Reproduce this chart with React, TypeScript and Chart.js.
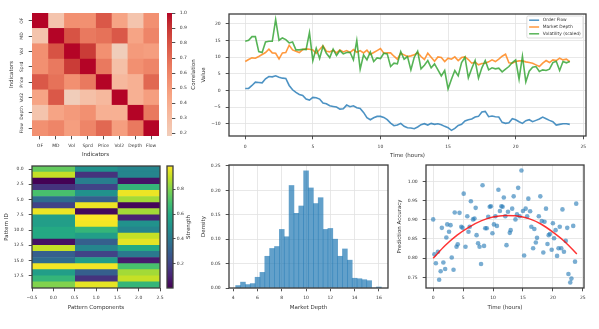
import React, { useEffect, useRef } from 'react';
import { Chart, registerables } from 'chart.js';

Chart.register(...registerables);

// ---------------- data ----------------
const indicatorLabels = ['OF', 'MD', 'Vol', 'Sprd', 'Price', 'Vol2', 'Depth', 'Flow'];
const corrOF = [1.0, 0.25, 0.55, 0.55, 0.78, 0.45, 0.25, 0.55];
const corrMD = [0.25, 1.0, 0.8, 0.65, 0.68, 0.78, 0.45, 0.6];
const corrVol = [0.55, 0.8, 1.0, 0.88, 0.55, 0.18, 0.5, 0.48];
const corrSprd = [0.55, 0.65, 0.88, 1.0, 0.65, 0.28, 0.55, 0.6];
const corrPrice = [0.78, 0.68, 0.55, 0.65, 1.0, 0.33, 0.38, 0.72];
const corrVol2 = [0.45, 0.78, 0.18, 0.28, 0.33, 1.0, 0.38, 0.48];
const corrDepth = [0.25, 0.45, 0.5, 0.55, 0.38, 0.38, 1.0, 0.65];
const corrFlow = [0.55, 0.6, 0.48, 0.6, 0.72, 0.48, 0.65, 1.0];
const corrTicks = [0.2, 0.3, 0.4, 0.5, 0.6, 0.7, 0.8, 0.9, 1.0];

const componentA = [0.75, 0.9, 0.006, 0.15, 0.7, 0.35, 0.2, 0.96, 0.55, 0.55, 0.6, 0.6, 0.05, 0.9, 0.3, 0.35, 0.97, 0.55, 0.65, 0.8];
const componentB = [0.5, 0.15, 0.42, 0.2, 0.5, 0.3, 0.96, 0.03, 0.986, 0.97, 0.65, 0.55, 0.3, 0.45, 0.2, 0.55, 0.97, 0.3, 0.15, 0.95];
const componentC = [0.45, 0.45, 0.06, 0.65, 0.96, 0.85, 0.02, 0.85, 0.1, 0.5, 0.45, 0.9, 0.95, 0.6, 0.4, 0.08, 0.7, 0.85, 0.9, 0.65];
const patternXTicks = [-0.5, 0, 0.5, 1, 1.5, 2, 2.5];
const patternYTicks = [0, 2.5, 5, 7.5, 10, 12.5, 15, 17.5];
const strengthTicks = [0.2, 0.4, 0.6, 0.8];

const HOUR_STEP = 0.25;
const orderFlow = [
  0.6, 0.6, 1.5, 2.5, 2.4, 2.3, 3.5, 4.2, 4.1, 4.4, 4.0, 3.7, 3.6,
  1.5, 0.2, -0.6, -1.2, -1.5, -2.6, -2.9, -2.1, -2.2, -2.6, -3.8, -4.0,
  -4.6, -4.8, -5.0, -5.6, -5.5, -4.4, -4.9, -4.6, -5.2, -5.4, -6.6, -8.2,
  -8.8, -8.2, -7.8, -7.8, -8.1, -8.8, -9.8, -10.6, -10.4, -9.9, -10.8, -11.2,
  -11.3, -11.5, -11.0, -10.3, -10.0, -10.4, -9.9, -10.2, -10.0, -10.3, -10.8, -11.2,
  -12.0, -11.4, -10.5, -10.2, -9.2, -8.8, -8.6, -8.0, -7.8, -6.5, -6.3, -7.9,
  -7.7, -7.9, -8.0, -9.6, -9.9, -9.7, -8.5, -8.8, -9.4, -9.9, -9.1, -8.8,
  -9.4, -9.0, -8.6, -8.0, -8.5, -9.0, -9.4, -10.4, -10.2, -10.0, -10.0, -10.2,
];
const marketDepth = [
  8.7, 9.3, 9.8, 9.7, 10.2, 10.8, 11.4, 12.4, 11.3, 11.2, 9.5, 11.3, 11.4,
  13.6, 12.2, 11.8, 11.4, 12.3, 12.5, 12.4, 12.2, 11.2, 12.3, 13.4, 11.8,
  11.6, 12.1, 11.3, 12.2, 11.6, 12.0, 11.4, 12.3, 11.5, 12.0, 11.3, 12.1,
  10.8, 11.4, 12.0, 12.6, 11.2, 11.3, 11.3, 10.3, 9.4, 11.2, 10.7, 10.2,
  10.4, 10.7, 11.4, 10.2, 9.3, 11.2, 10.0, 8.8, 10.1, 9.9, 8.7, 9.7,
  9.4, 10.1, 9.0, 9.9, 10.1, 9.3, 8.2, 8.5, 7.7, 8.1, 8.2, 8.6,
  9.2, 8.7, 9.4, 10.3, 10.9, 8.3, 8.2, 8.7, 8.9, 8.9, 8.6, 8.4,
  8.2, 7.7, 7.2, 8.2, 9.0, 8.4, 9.2, 9.0, 9.7, 9.2, 9.4, 8.7,
];
const volatility = [
  14.8, 15.1, 16.2, 16.2, 11.7, 11.4, 14.6, 14.8, 14.8, 21.3, 15.1, 15.8, 15.3,
  14.3, 14.6, 12.2, 12.2, 12.4, 12.3, 17.4, 9.0, 12.7, 9.6, 13.3, 11.2,
  9.9, 12.4, 10.5, 12.0, 11.0, 11.4, 11.5, 9.2, 15.0, 6.4, 10.7, 9.2,
  11.6, 8.7, 9.8, 9.6, 11.2, 11.0, 7.2, 8.2, 8.0, 11.7, 9.4, 10.2,
  6.2, 10.0, 11.8, 6.5, 7.6, 9.0, 6.8, 8.0, 6.2, 4.4, 6.0, 0.5,
  3.4, 6.0, 4.4, 8.4, 10.0, 3.8, 6.6, 9.0, 3.7, 6.8, 9.0, 6.2,
  6.8, 6.5, 6.7, 5.6, 6.4, 7.2, 8.4, 9.2, 3.4, 10.3, 2.6, 5.8,
  7.0, 7.2, 5.7, 6.2, 6.0, 6.4, 8.4, 8.8, 6.0, 8.7, 8.3, 8.7,
];
const timeTicks = [0, 5, 10, 15, 20, 25];
const valueTicks = [-10, -5, 0, 5, 10, 15, 20];

const depthBinCenters = [4.4, 4.8, 5.2, 5.6, 6.0, 6.4, 6.8, 7.2, 7.6, 8.0, 8.4, 8.8, 9.2, 9.6, 10.0, 10.4, 10.8, 11.2, 11.6, 12.0, 12.4, 12.8, 13.2, 13.6, 14.0, 14.4, 14.8, 15.2, 15.6, 16.0];
const depthDensity = [0.005, 0.012, 0.007, 0.009, 0.022, 0.032, 0.065, 0.081, 0.085, 0.12, 0.105, 0.21, 0.153, 0.168, 0.24, 0.205, 0.173, 0.185, 0.12, 0.122, 0.1, 0.065, 0.08, 0.057, 0.02, 0.019, 0.017, 0.015, 0, 0.002];
const depthTicks = [4, 6, 8, 10, 12, 14, 16];
const densityTicks = [0, 0.05, 0.1, 0.15, 0.2, 0.25];

const accTime = [
  0.0, 0.2, 0.45, 0.8, 1.0, 1.25, 1.45, 1.7, 2.0, 2.2,
  2.35, 2.65, 2.9, 3.1, 3.4, 3.6, 3.9, 4.1, 4.4, 4.7,
  4.9, 5.1, 5.4, 5.7, 5.9, 6.1, 6.3, 6.65, 6.9, 7.1,
  7.25, 7.5, 7.75, 8.0, 8.25, 8.5, 8.7, 8.95, 9.2, 9.45,
  9.65, 9.9, 10.15, 10.4, 10.65, 10.9, 11.15, 11.4, 11.6, 11.8,
  12.05, 12.25, 12.5, 12.8, 12.95, 13.2, 13.45, 13.75, 14.0, 14.2,
  14.45, 14.75, 15.0, 15.2, 15.45, 15.7, 15.9, 16.2, 16.4, 16.7,
  16.9, 17.15, 17.35, 17.65, 17.9, 18.15, 18.4, 18.6, 18.85, 19.1,
  19.3, 19.5, 19.8, 20.0, 20.2, 20.45, 20.7, 20.95, 21.15, 21.4,
  21.6, 21.85, 22.15, 22.4, 22.6, 22.9, 23.1, 23.4, 23.7, 23.9,
];
const accValue = [
  0.901, 0.81, 0.787, 0.817, 0.744, 0.766, 0.879, 0.789, 0.772, 0.854,
  0.888, 0.869, 0.886, 0.802, 0.77, 0.919, 0.83, 0.836, 0.918, 0.882,
  0.879, 0.968, 0.83, 0.909, 0.869, 0.882, 0.948, 0.901, 0.903, 0.931,
  0.86, 0.839, 0.83, 0.785, 0.99, 0.832, 0.878, 0.878, 0.908, 0.934,
  0.935, 0.865, 0.888, 0.909, 0.884, 0.978, 0.923, 0.935, 0.934, 0.958,
  0.909, 0.834, 0.921, 0.866, 0.873, 0.929, 0.961, 0.901, 0.914, 0.983,
  0.909, 1.028, 0.923, 0.807, 0.929, 0.909, 0.955, 0.922, 0.882, 0.826,
  0.876, 0.841, 0.853, 0.909, 0.961, 0.897, 0.815, 0.895, 0.929, 0.837,
  0.86, 0.863, 0.822, 0.891, 0.852, 0.873, 0.806, 0.826, 0.882, 0.826,
  0.927, 0.817, 0.845, 0.879, 0.759, 0.737, 0.747, 0.884, 0.791, 0.942,
];
const fitTime = [0, 2, 4, 6, 8, 10, 12, 14, 16, 18, 20, 22, 24];
const fitAccuracy = [0.8, 0.833, 0.86, 0.881, 0.897, 0.907, 0.911, 0.91, 0.903, 0.889, 0.868, 0.843, 0.811];
const accTicks = [0.75, 0.8, 0.85, 0.9, 0.95, 1.0];

// ---------------- styling helpers ----------------
const FONT = '"DejaVu Sans", sans-serif';
const TEXT = '#333333';
const SPINE = '#3d3d3d';
const GRID = '#e2e2e2';
const TICK_SIZE = 4.5;
const TITLE_SIZE = 5.5;
const PAD = 8;

Chart.defaults.font.family = FONT;
Chart.defaults.color = TEXT;

const COOLWARM: [number, number[]][] = [
  [0.5, [221, 221, 221]], [0.53125, [229, 216, 209]], [0.5625, [236, 211, 197]], [0.59375, [241, 204, 184]],
  [0.625, [244, 196, 173]], [0.65625, [246, 187, 160]], [0.6875, [247, 177, 148]], [0.71875, [247, 167, 135]],
  [0.75, [244, 154, 123]], [0.78125, [241, 141, 111]], [0.8125, [236, 127, 99]], [0.84375, [229, 112, 88]],
  [0.875, [222, 96, 77]], [0.90625, [213, 80, 66]], [0.9375, [203, 62, 56]], [0.96875, [192, 40, 47]], [1, [180, 4, 38]],
];
const VIRIDIS: [number, number[]][] = [
  [0, [68, 1, 84]], [0.1, [72, 36, 117]], [0.2, [65, 68, 135]], [0.3, [53, 95, 141]], [0.4, [42, 120, 142]],
  [0.5, [33, 145, 140]], [0.6, [34, 168, 132]], [0.7, [68, 191, 112]], [0.8, [122, 209, 81]], [0.9, [189, 223, 38]], [1, [253, 231, 37]],
];
function lerpMap(table: [number, number[]][], f: number) {
  const t = Math.max(table[0][0], Math.min(table[table.length - 1][0], f));
  for (let i = 1; i < table.length; i++) {
    const [f1, c1] = table[i];
    const [f0, c0] = table[i - 1];
    if (t <= f1) {
      const k = (t - f0) / (f1 - f0);
      const c = c0.map((v, j) => Math.round(v + (c1[j] - v) * k));
      return `rgb(${c[0]},${c[1]},${c[2]})`;
    }
  }
  const c = table[table.length - 1][1];
  return `rgb(${c[0]},${c[1]},${c[2]})`;
}
const coolwarm = (f: number) => lerpMap(COOLWARM, f);
const viridis = (f: number) => lerpMap(VIRIDIS, f);

function fmt(v: number, d: number) {
  const s = Math.abs(v).toFixed(d);
  return v < -1e-9 ? '\u2212' + s : s;
}

type Area = { L: number; T: number; R: number; B: number };
function rectOf(a: Area, leftW: number, rightW: number, bottomH: number) {
  return {
    left: a.L - leftW - PAD,
    top: a.T - PAD,
    width: PAD + leftW + (a.R - a.L) + rightW + PAD,
    height: PAD + (a.B - a.T) + bottomH + PAD,
  };
}

function axis(o: any) {
  const horizontal = o.position === 'bottom' || o.position === 'top';
  const tPad = (o.titleOffset ?? 4) - (TITLE_SIZE * 1.2) / 2;
  return {
    type: 'linear',
    position: o.position,
    min: o.min,
    max: o.max,
    reverse: !!o.reverse,
    offset: false,
    afterBuildTicks: (s: any) => {
      s.ticks = o.values.map((v: number) => ({ value: v }));
    },
    afterFit: (s: any) => {
      if (horizontal) s.height = o.size;
      else s.width = o.size;
    },
    ticks: {
      autoSkip: false,
      padding: o.pad ?? 4.5,
      color: TEXT,
      font: { family: FONT, size: TICK_SIZE },
      callback: (v: any) => o.label(Number(v)),
      minRotation: o.rotate ? 90 : 0,
      maxRotation: o.rotate ? 90 : 0,
      crossAlign: o.rotate ? 'center' : 'near',
    },
    grid: {
      display: true,
      drawOnChartArea: !!o.grid,
      color: GRID,
      lineWidth: 0.8,
      offset: false,
      drawTicks: true,
      tickLength: o.tickLength ?? 3.3,
      tickColor: SPINE,
      tickWidth: 0.9,
    },
    border: { display: false },
    title: o.title
      ? { display: true, text: o.title, color: TEXT, font: { family: FONT, size: TITLE_SIZE }, padding: { top: tPad, bottom: tPad } }
      : { display: false },
  };
}

const framePlugin = {
  id: 'frame',
  afterDraw(chart: any) {
    const { ctx, chartArea: a } = chart;
    ctx.save();
    ctx.strokeStyle = SPINE;
    ctx.lineWidth = 1.3;
    ctx.strokeRect(a.left, a.top, a.right - a.left, a.bottom - a.top);
    ctx.restore();
  },
};

function sideLabel(text: string, offset: number) {
  return {
    id: 'sideLabel',
    afterDraw(chart: any) {
      const { ctx, chartArea: a } = chart;
      ctx.save();
      ctx.translate(a.right + offset, (a.top + a.bottom) / 2);
      ctx.rotate(-Math.PI / 2);
      ctx.font = `${TITLE_SIZE}px ${FONT}`;
      ctx.fillStyle = TEXT;
      ctx.textAlign = 'center';
      ctx.textBaseline = 'middle';
      ctx.fillText(text, 0, 0);
      ctx.restore();
    },
  };
}

const boxLegend = {
  id: 'boxLegend',
  afterDraw(chart: any) {
    const { ctx, chartArea: a } = chart;
    const items = chart.data.datasets;
    ctx.save();
    ctx.font = `4.4px ${FONT}`;
    const textW = Math.max(...items.map((d: any) => ctx.measureText(d.label).width));
    const padX = 2.3, padY = 0.8, row = 6.8, lineLen = 10, gap = 3.7;
    const w = padX * 2 + lineLen + gap + textW;
    const h = padY * 2 + row * items.length;
    const x0 = a.right - 3 - w;
    const y0 = a.top + 2;
    ctx.beginPath();
    if (ctx.roundRect) ctx.roundRect(x0, y0, w, h, 1.5);
    else ctx.rect(x0, y0, w, h);
    ctx.fillStyle = 'rgba(255,255,255,0.85)';
    ctx.fill();
    ctx.strokeStyle = '#d2d2d2';
    ctx.lineWidth = 0.8;
    ctx.stroke();
    items.forEach((d: any, i: number) => {
      const y = y0 + padY + row * (i + 0.5);
      ctx.beginPath();
      ctx.moveTo(x0 + padX, y);
      ctx.lineTo(x0 + padX + lineLen, y);
      ctx.strokeStyle = d.borderColor;
      ctx.lineWidth = 1.5;
      ctx.stroke();
      ctx.fillStyle = TEXT;
      ctx.textAlign = 'left';
      ctx.textBaseline = 'middle';
      ctx.fillText(d.label, x0 + padX + lineLen + gap, y);
    });
    ctx.restore();
  },
};

function gradientFill(cmap: (f: number) => string, f0: number, f1: number) {
  return (c: any) => {
    const a = c.chart.chartArea;
    if (!a) return cmap(f1);
    const g = c.chart.ctx.createLinearGradient(0, a.bottom, 0, a.top);
    for (let i = 0; i <= 40; i++) {
      const t = i / 40;
      g.addColorStop(t, cmap(f0 + (f1 - f0) * t));
    }
    return g;
  };
}

function base(extra: any) {
  return {
    responsive: false,
    animation: false,
    devicePixelRatio: 1,
    events: [],
    layout: { padding: PAD },
    plugins: { legend: { display: false }, tooltip: { enabled: false } },
    ...extra,
  };
}

// ---------------- panels ----------------
const corrRows = [corrOF, corrMD, corrVol, corrSprd, corrPrice, corrVol2, corrDepth, corrFlow];
const corrMin = Math.min(...corrRows.flat());
const corrMax = Math.max(...corrRows.flat());
const indicatorIdx = indicatorLabels.map((_, i) => i);

const areaCorr: Area = { L: 32, T: 13, R: 159, B: 136 };
const areaCorrBar: Area = { L: 167, T: 13, R: 172, B: 136 };
const areaLines: Area = { L: 229, T: 14, R: 586, B: 136 };
const areaPattern: Area = { L: 32, T: 166, R: 160, B: 288 };
const areaPatternBar: Area = { L: 167, T: 166, R: 173, B: 288 };
const areaHist: Area = { L: 229, T: 165, R: 388, B: 288 };
const areaScatter: Area = { L: 426, T: 165, R: 584, B: 288 };

const components = [componentA, componentB, componentC];
const allStrength = components.flat();
const sMin = Math.min(...allStrength);
const sMax = Math.max(...allStrength);

const panels = [
  {
    id: 'corr',
    rect: rectOf(areaCorr, 32, 0, 26),
    make: () => ({
      type: 'bar',
      data: {
        datasets: indicatorLabels.map((_, c) => ({
          data: corrRows.map((_, r) => ({ x: [c - 0.5, c + 0.5], y: r })),
          backgroundColor: corrRows.map((row) => coolwarm((row[c] + 1) / 2)),
          borderWidth: 0,
          grouped: false,
          barPercentage: 1,
          categoryPercentage: 1,
        })),
      },
      options: base({
        indexAxis: 'y',
        scales: {
          x: axis({ position: 'bottom', min: -0.5, max: 7.5, values: indicatorIdx, label: (v: number) => indicatorLabels[v], size: 26, pad: 3.7, title: 'Indicators', titleOffset: 7 }),
          y: axis({ position: 'left', min: -0.5, max: 7.5, reverse: true, values: indicatorIdx, label: (v: number) => indicatorLabels[v], size: 32, pad: 0, rotate: true, title: 'Indicators', titleOffset: 11.7 }),
        },
      }),
    }),
  },
  {
    id: 'corrBar',
    rect: rectOf(areaCorrBar, 0, 20, 0),
    make: () => ({
      type: 'bar',
      data: {
        labels: ['Correlation'],
        datasets: [{ data: [[corrMin, corrMax]], backgroundColor: gradientFill(coolwarm, (corrMin + 1) / 2, (corrMax + 1) / 2), borderWidth: 0, barPercentage: 1, categoryPercentage: 1 }],
      },
      options: base({
        scales: {
          x: { type: 'category', display: false, offset: true },
          y: axis({ position: 'right', min: corrMin, max: corrMax, values: corrTicks, label: (v: number) => v.toFixed(1), size: 20, pad: 4.4 }),
        },
      }),
      plugins: [sideLabel('Correlation', 22)],
    }),
  },
  {
    id: 'lines',
    rect: rectOf(areaLines, 29, 0, 28),
    make: () => {
      const hours = orderFlow.map((_, i) => i * HOUR_STEP);
      const mk = (label: string, vals: number[], color: string, order: number) => ({
        label,
        data: vals.map((v, i) => ({ x: hours[i], y: v })),
        borderColor: color,
        borderWidth: 1.6,
        pointRadius: 0,
        tension: 0,
        fill: false,
        order,
      });
      return {
        type: 'line',
        data: {
          datasets: [
            mk('Order Flow', orderFlow, 'rgba(31,119,180,0.8)', 3),
            mk('Market Depth', marketDepth, 'rgba(255,127,14,0.8)', 2),
            mk('Volatility (scaled)', volatility, 'rgba(44,160,44,0.8)', 1),
          ],
        },
        options: base({
          scales: {
            x: axis({ position: 'bottom', min: -1.2, max: 25.2, values: timeTicks, label: (v: number) => fmt(v, 0), size: 28, pad: 5, grid: true, title: 'Time (hours)', titleOffset: 8.3 }),
            y: axis({ position: 'left', min: -13.7, max: 23.0, values: valueTicks, label: (v: number) => fmt(v, 0), size: 29, pad: 5, grid: true, title: 'Value', titleOffset: 4 }),
          },
        }),
        plugins: [framePlugin, boxLegend],
      };
    },
  },
  {
    id: 'pattern',
    rect: rectOf(areaPattern, 32, 0, 28),
    make: () => ({
      type: 'bar',
      data: {
        datasets: components.map((vals, c) => ({
          data: vals.map((_, r) => ({ x: [c - 0.5, c + 0.5], y: r })),
          backgroundColor: vals.map((v) => viridis((v - sMin) / (sMax - sMin))),
          borderWidth: 0,
          grouped: false,
          barPercentage: 1,
          categoryPercentage: 1,
        })),
      },
      options: base({
        indexAxis: 'y',
        scales: {
          x: axis({ position: 'bottom', min: -0.5, max: 2.5, values: patternXTicks, label: (v: number) => fmt(v, 1), size: 28, pad: 4.3, title: 'Pattern Components', titleOffset: 8.3 }),
          y: axis({ position: 'left', min: -0.5, max: 19.5, reverse: true, values: patternYTicks, label: (v: number) => fmt(v, 1), size: 32, pad: 5, title: 'Pattern ID', titleOffset: 6.7 }),
        },
      }),
      plugins: [framePlugin],
    }),
  },
  {
    id: 'patternBar',
    rect: rectOf(areaPatternBar, 0, 16, 0),
    make: () => ({
      type: 'bar',
      data: {
        labels: ['Strength'],
        datasets: [{ data: [[sMin, sMax]], backgroundColor: gradientFill(viridis, 0, 1), borderWidth: 0, barPercentage: 1, categoryPercentage: 1 }],
      },
      options: base({
        scales: {
          x: { type: 'category', display: false, offset: true },
          y: axis({ position: 'right', min: sMin, max: sMax, values: strengthTicks, label: (v: number) => v.toFixed(1), size: 16, pad: 1.2, tickLength: 2.5 }),
        },
      }),
      plugins: [framePlugin, sideLabel('Strength', 15.5)],
    }),
  },
  {
    id: 'hist',
    rect: rectOf(areaHist, 29, 0, 28),
    make: () => ({
      type: 'bar',
      data: {
        datasets: [{
          data: depthBinCenters.map((x, i) => ({ x, y: depthDensity[i] })),
          backgroundColor: 'rgba(31,119,180,0.7)',
          borderWidth: 0,
          barPercentage: 1,
          categoryPercentage: 1,
        }],
      },
      options: base({
        scales: {
          x: axis({ position: 'bottom', min: 3.65, max: 16.75, values: depthTicks, label: (v: number) => fmt(v, 0), size: 28, pad: 4.3, grid: true, title: 'Market Depth', titleOffset: 8.3 }),
          y: axis({ position: 'left', min: 0, max: 0.252, values: densityTicks, label: (v: number) => v.toFixed(2), size: 29, pad: 5, grid: true, title: 'Density', titleOffset: 4 }),
        },
      }),
      plugins: [framePlugin],
    }),
  },
  {
    id: 'scatter',
    rect: rectOf(areaScatter, 30, 0, 28),
    make: () => ({
      type: 'scatter',
      data: {
        datasets: [
          {
            label: 'Trend',
            data: fitTime.map((x, i) => ({ x, y: fitAccuracy[i] })),
            showLine: true,
            borderColor: 'rgba(255,0,0,0.8)',
            borderWidth: 1.5,
            pointRadius: 0,
            cubicInterpolationMode: 'monotone',
            fill: false,
          },
          {
            label: 'Accuracy',
            data: accTime.map((x, i) => ({ x, y: accValue[i] })),
            backgroundColor: 'rgba(31,119,180,0.6)',
            borderWidth: 0,
            pointRadius: 2.3,
          },
        ],
      },
      options: base({
        scales: {
          x: axis({ position: 'bottom', min: -1.2, max: 25.2, values: timeTicks, label: (v: number) => fmt(v, 0), size: 28, pad: 4.3, grid: true, title: 'Time (hours)', titleOffset: 8.3 }),
          y: axis({ position: 'left', min: 0.7225, max: 1.0425, values: accTicks, label: (v: number) => v.toFixed(2), size: 30, pad: 5, grid: true, title: 'Prediction Accuracy', titleOffset: 4 }),
        },
      }),
      plugins: [framePlugin],
    }),
  },
];

function ChartBox({ rect, make }: { rect: any; make: () => any }) {
  const ref = useRef<HTMLCanvasElement>(null);
  useEffect(() => {
    const chart = new Chart(ref.current as HTMLCanvasElement, make());
    return () => chart.destroy();
  }, []);
  return (
    <canvas
      ref={ref}
      width={rect.width}
      height={rect.height}
      style={{ position: 'absolute', left: rect.left, top: rect.top, width: rect.width, height: rect.height }}
    />
  );
}

export default function App() {
  return (
    <div style={{ position: 'fixed', left: 0, top: 0, width: 599, height: 329, background: '#ffffff', overflow: 'hidden' }}>
      {panels.map((p) => (
        <ChartBox key={p.id} rect={p.rect} make={p.make} />
      ))}
    </div>
  );
}
